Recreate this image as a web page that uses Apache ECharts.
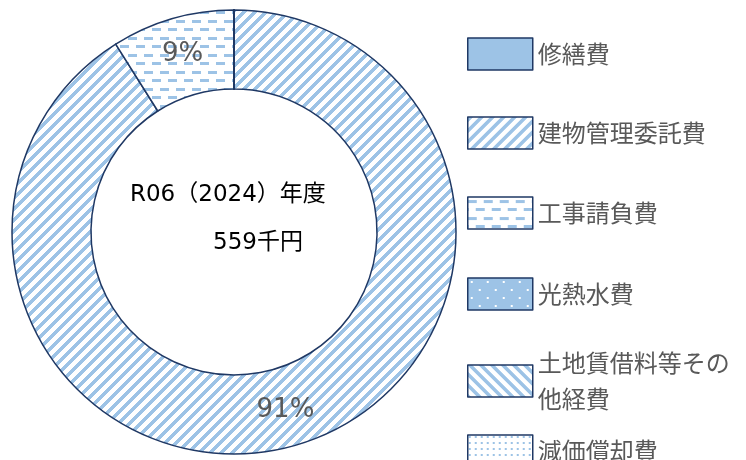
<!DOCTYPE html>
<html>
<head>
<meta charset="utf-8">
<script src="https://cdn.jsdelivr.net/npm/echarts@6/dist/echarts.min.js"></script>
<style>
  html, body { margin: 0; padding: 0; background: #ffffff; }
  #chart { width: 746px; height: 460px; }
</style>
</head>
<body>
<div id="chart"></div>
<script>
// Expense categories (千円)
var categories = ['修繕費', '建物管理委託費', '工事請負費', '光熱水費', '土地賃借料等その他経費', '減価償却費'];
var amounts = [0, 509, 50, 0, 0, 0];
var yearLabel = 'R06（2024）年度';
var unitLabel = '千円';

var BLUE = '#9DC3E6';
var NAVY = '#1F3864';
var FONT = '"Noto Sans CJK JP", "Noto Sans", sans-serif';
var WIDE_FONT = '"DejaVu Sans", "Noto Sans CJK JP", sans-serif';

// Tile builder for pattern fills
function tile(w, h, bg, fn) {
  var c = document.createElement('canvas');
  c.width = w; c.height = h;
  var g = c.getContext('2d');
  if (bg) { g.fillStyle = bg; g.fillRect(0, 0, w, h); }
  fn(g, w, h);
  return { image: c, repeat: 'repeat' };
}
function pixels(g, w, h, test, color) {
  g.fillStyle = color;
  for (var y = 0; y < h; y++) for (var x = 0; x < w; x++) if (test(x, y)) g.fillRect(x, y, 1, 1);
}

var fills = [
  BLUE,
  // wide upward diagonal stripes
  tile(11, 11, '#ffffff', function (g, w, h) {
    pixels(g, w, h, function (x, y) { return ((x + y) % 11) < 5; }, BLUE);
  }),
  // dashed horizontal lines
  tile(16, 17, '#ffffff', function (g) {
    g.fillStyle = BLUE;
    g.fillRect(0, 3, 9, 3);
    g.fillRect(8, 11, 8, 3);
    g.fillRect(0, 11, 1, 3);
  }),
  // solid fill with sparse white dots
  tile(16, 16, BLUE, function (g) {
    g.fillStyle = '#ffffff';
    g.fillRect(3, 3, 2, 2);
    g.fillRect(11, 11, 2, 2);
  }),
  // wide downward diagonal stripes
  tile(11, 11, '#ffffff', function (g, w, h) {
    pixels(g, w, h, function (x, y) { return ((x - y + 110) % 11) < 5; }, BLUE);
  }),
  // fine dots
  tile(6, 6, '#ffffff', function (g) {
    g.fillStyle = BLUE;
    g.fillRect(1, 1, 2, 2);
  })
];

var total = amounts.reduce(function (a, b) { return a + b; }, 0);

var seriesData = categories.map(function (name, i) {
  return { name: name, value: amounts[i], itemStyle: { color: fills[i] } };
});

// legend rows placed one by one down the right side
var legendTops = [36, 115, 195, 276, 345, 433];
var legends = categories.map(function (name, i) {
  return {
    data: [name],
    left: 467,
    top: legendTops[i],
    orient: 'vertical',
    icon: 'rect',
    itemWidth: 65,
    itemHeight: 32,
    selectedMode: false,
    padding: 0,
    itemStyle: { borderColor: NAVY, borderWidth: 1.5 },
    textStyle: {
      fontFamily: FONT, fontSize: 24, color: '#595959',
      width: 196, overflow: 'break', lineHeight: 36
    }
  };
});

var chart = echarts.init(document.getElementById('chart'));
chart.setOption({
  animation: false,
  backgroundColor: '#ffffff',
  legend: legends,
  graphic: [
    { type: 'text', left: 130, top: 184, style: { text: yearLabel, font: '23px ' + WIDE_FONT, fill: '#000000' } },
    { type: 'text', left: 213, top: 232, style: { text: total + unitLabel, font: '23px ' + WIDE_FONT, fill: '#000000' } }
  ],
  series: [{
    type: 'pie',
    center: [234, 232],
    radius: [143, 222],
    startAngle: 90,
    clockwise: true,
    avoidLabelOverlap: false,
    silent: true,
    itemStyle: { borderColor: NAVY, borderWidth: 1.5 },
    label: {
      show: true,
      position: 'inside',
      fontFamily: WIDE_FONT,
      fontSize: 26,
      color: '#595959',
      formatter: function (p) { return p.value ? Math.round(p.percent) + '%' : ''; }
    },
    labelLine: { show: false },
    data: seriesData
  }]
});
</script>
</body>
</html>
